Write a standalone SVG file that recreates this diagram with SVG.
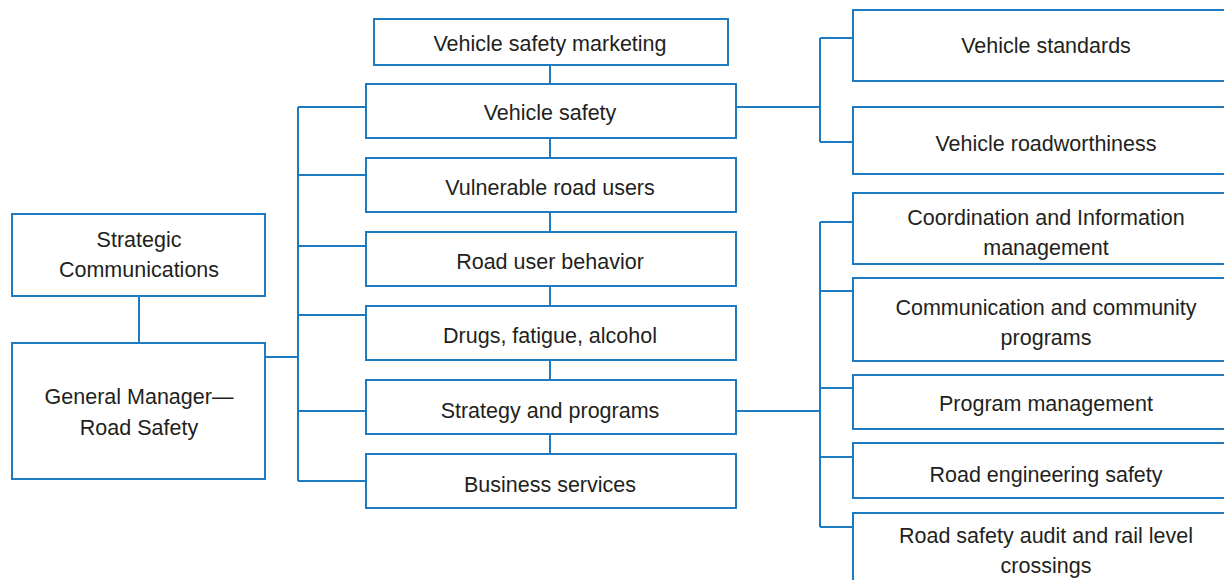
<svg xmlns="http://www.w3.org/2000/svg" width="1224" height="580" viewBox="0 0 1224 580">
<style>
.box{fill:#fff;stroke:#1f7bc1;stroke-width:2}
.ln{fill:none;stroke:#1f7bc1;stroke-width:2}
text{font-family:"Liberation Sans",Arial,sans-serif;font-size:21.5px;fill:#231f20;text-anchor:middle}
</style>
<rect width="1224" height="580" fill="#fff"/>
<g id="connectors">
<path class="ln" d="M139 296V343"/>
<path class="ln" d="M265 357H298"/>
<path class="ln" d="M298 107V481"/>
<path class="ln" d="M298 107H366M298 175H366M298 246H366M298 315H366M298 411H366M298 481H366"/>
<path class="ln" d="M550 65V84M550 138V158M550 212V232M550 286V306M550 360V380M550 434V454"/>
<path class="ln" d="M736 107H820M820 38V142M820 38H853M820 142H853"/>
<path class="ln" d="M735 411H820M820 222V527M820 222H853M820 291H853M820 388H853M820 457H853M820 527H853"/>
</g>
<g id="strategic-communications"><rect class="box" x="12" y="214" width="253" height="82"/><text x="139" y="247">Strategic</text><text x="139" y="277">Communications</text></g>
<g id="general-manager"><rect class="box" x="12" y="343" width="253" height="136"/><text x="139" y="404">General Manager—</text><text x="139" y="435">Road Safety</text></g>
<g id="vehicle-safety-marketing"><rect class="box" x="374" y="19" width="354" height="46"/><text x="550" y="51">Vehicle safety marketing</text></g>
<g id="vehicle-safety"><rect class="box" x="366" y="84" width="370" height="54"/><text x="550" y="120">Vehicle safety</text></g>
<g id="vulnerable-road-users"><rect class="box" x="366" y="158" width="370" height="54"/><text x="550" y="195">Vulnerable road users</text></g>
<g id="road-user-behavior"><rect class="box" x="366" y="232" width="370" height="54"/><text x="550" y="269">Road user behavior</text></g>
<g id="drugs-fatigue-alcohol"><rect class="box" x="366" y="306" width="370" height="54"/><text x="550" y="343">Drugs, fatigue, alcohol</text></g>
<g id="strategy-and-programs"><rect class="box" x="366" y="380" width="370" height="54"/><text x="550" y="418">Strategy and programs</text></g>
<g id="business-services"><rect class="box" x="366" y="454" width="370" height="54"/><text x="550" y="492">Business services</text></g>
<g id="vehicle-standards"><rect class="box" x="853" y="10" width="400" height="71"/><text x="1046" y="53">Vehicle standards</text></g>
<g id="vehicle-roadworthiness"><rect class="box" x="853" y="107" width="400" height="67"/><text x="1046" y="151">Vehicle roadworthiness</text></g>
<g id="coordination"><rect class="box" x="853" y="193" width="400" height="71"/><text x="1046" y="225">Coordination and Information</text><text x="1046" y="255">management</text></g>
<g id="communication"><rect class="box" x="853" y="278" width="400" height="83"/><text x="1046" y="315">Communication and community</text><text x="1046" y="345">programs</text></g>
<g id="program-management"><rect class="box" x="853" y="375" width="400" height="54"/><text x="1046" y="411">Program management</text></g>
<g id="road-engineering-safety"><rect class="box" x="853" y="443" width="400" height="55"/><text x="1046" y="482">Road engineering safety</text></g>
<g id="road-safety-audit"><rect class="box" x="853" y="513" width="400" height="100"/><text x="1046" y="543">Road safety audit and rail level</text><text x="1046" y="573">crossings</text></g>
</svg>
